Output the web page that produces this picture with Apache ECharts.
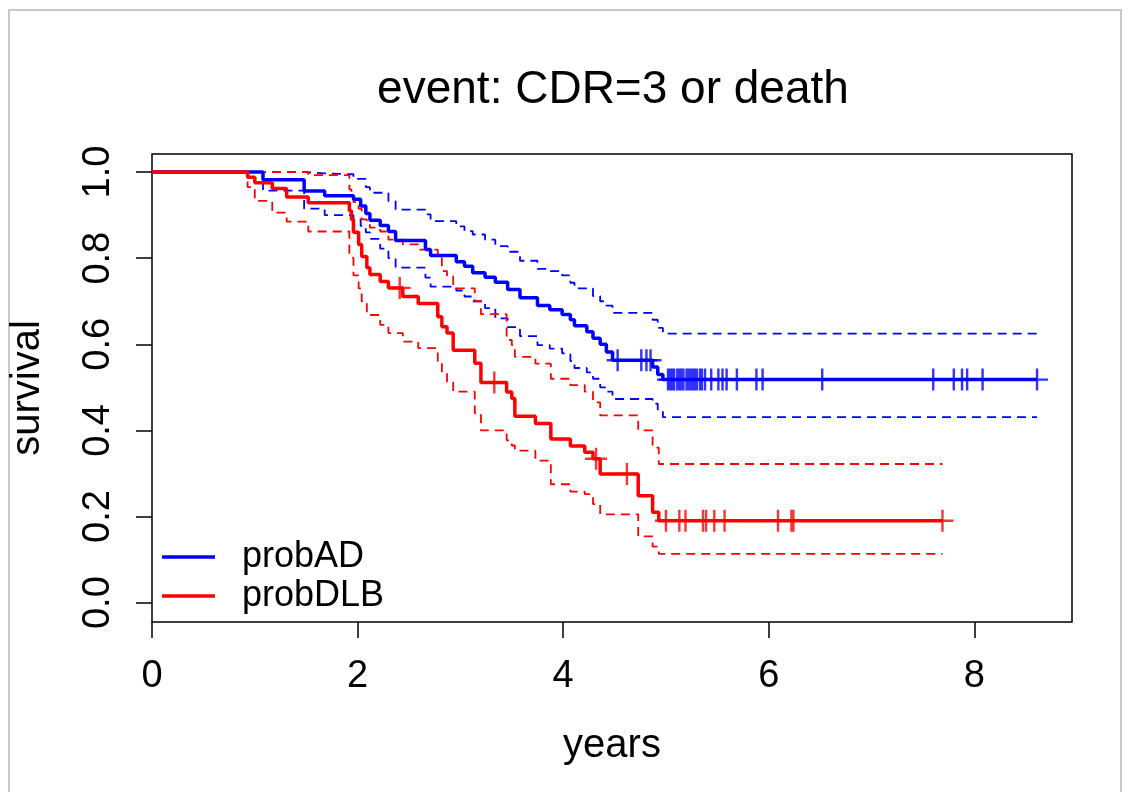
<!DOCTYPE html>
<html><head><meta charset="utf-8">
<script src="https://cdn.jsdelivr.net/npm/echarts@6/dist/echarts.min.js"></script>
<style>html,body{margin:0;padding:0;background:#fff;} #chart{width:1130px;height:792px;}</style>
</head><body><div id="chart"></div>
<script>
const chartTitle = 'event: CDR=3 or death';
const xName = 'years';
const yName = 'survival';
const xTicks = [0, 2, 4, 6, 8];
const yTicks = [0, 0.2, 0.4, 0.6, 0.8, 1.0];
const groupNames = ['probAD', 'probDLB'];

// probAD (blue)
const adTimes = [1.08,1.48,1.68,1.96,2.03,2.08,2.12,2.22,2.30,2.37,2.66,2.71,2.96,3.04,3.12,3.24,3.34,3.46,3.58,3.75,3.87,3.99,4.07,4.11,4.23,4.29,4.36,4.42,4.48,4.87,4.92,4.97];
const adSurv  = [0.982,0.956,0.945,0.937,0.921,0.904,0.888,0.876,0.862,0.841,0.820,0.806,0.792,0.781,0.766,0.756,0.744,0.727,0.708,0.690,0.680,0.669,0.657,0.643,0.629,0.614,0.600,0.582,0.563,0.547,0.530,0.518];
const adUpper = [1.0,0.997,0.995,0.984,0.984,0.965,0.952,0.952,0.932,0.913,0.902,0.886,0.874,0.863,0.855,0.843,0.828,0.815,0.794,0.775,0.770,0.760,0.743,0.730,0.730,0.712,0.700,0.690,0.673,0.657,0.638,0.625];
const adLower = [0.957,0.915,0.900,0.890,0.875,0.860,0.845,0.822,0.800,0.778,0.755,0.734,0.725,0.711,0.700,0.684,0.660,0.640,0.619,0.598,0.590,0.579,0.561,0.545,0.535,0.520,0.500,0.490,0.473,0.462,0.445,0.431];
const adCensor = [4.53,4.76,4.81,4.85,5.02,5.04,5.06,5.08,5.11,5.13,5.15,5.17,5.20,5.22,5.24,5.26,5.28,5.30,5.33,5.35,5.38,5.44,5.51,5.55,5.59,5.69,5.88,5.94,6.52,7.60,7.80,7.88,7.93,8.08,8.61];
const adEnd = 8.61;

// probDLB (red)
const dlbTimes = [0.93,1.00,1.17,1.31,1.52,1.92,1.94,1.96,2.01,2.04,2.09,2.12,2.22,2.30,2.44,2.59,2.78,2.82,2.87,2.93,3.14,3.20,3.45,3.50,3.53,3.73,3.88,4.07,4.21,4.29,4.36,4.73,4.87,4.93];
const dlbSurv  = [0.988,0.975,0.962,0.942,0.929,0.910,0.890,0.860,0.832,0.804,0.778,0.762,0.746,0.731,0.711,0.695,0.664,0.641,0.626,0.586,0.556,0.511,0.489,0.474,0.433,0.416,0.380,0.364,0.349,0.334,0.299,0.248,0.210,0.190];
const dlbUpper = [1.0,1.0,1.0,1.0,0.993,0.960,0.950,0.930,0.915,0.890,0.880,0.871,0.862,0.843,0.832,0.820,0.800,0.770,0.758,0.730,0.700,0.670,0.610,0.598,0.571,0.555,0.520,0.505,0.490,0.465,0.435,0.400,0.360,0.322];
const dlbLower = [0.965,0.933,0.906,0.885,0.862,0.804,0.800,0.760,0.730,0.700,0.676,0.668,0.645,0.626,0.606,0.591,0.556,0.533,0.512,0.490,0.440,0.400,0.377,0.365,0.353,0.330,0.275,0.258,0.252,0.229,0.205,0.154,0.130,0.113];
const dlbCensor = [2.41,3.33,4.32,4.62,5.00,5.13,5.19,5.36,5.39,5.47,5.57,6.09,6.22,6.24,7.69];
const dlbEnd = 7.69;

const FONT = '"Liberation Sans", Arial, Helvetica, sans-serif';
const BLUE = '#0000ff', RED = '#ff0000';

function stepData(times, vals, end) {
  const d = [[0, 1]];
  for (let i = 0; i < times.length; i++) d.push([times[i], vals[i]]);
  d.push([end, vals[vals.length - 1]]);
  return d;
}
function survAt(times, vals, t) {
  let v = 1;
  for (let i = 0; i < times.length; i++) if (times[i] <= t) v = vals[i];
  return v;
}
function censorData(cens, times, vals) {
  return cens.map(t => [t, survAt(times, vals, t)]);
}
const PLUS = 'path://M9.8,0H12.2V9.8H22V12.2H12.2V22H9.8V12.2H0V9.8H9.8Z';

function ciSeries(name, times, vals, end, color) {
  return {
    name: name, type: 'line', step: 'end', showSymbol: false, silent: true,
    data: stepData(times, vals, end),
    lineStyle: { color: color, width: 1.8, type: [9, 6] },
    itemStyle: { color: color }, z: 2
  };
}
function survSeries(name, times, vals, end, color, z) {
  return {
    name: name, type: 'line', step: 'end', showSymbol: false, silent: true,
    data: stepData(times, vals, end),
    lineStyle: { color: color, width: 3.5 },
    itemStyle: { color: color }, z: z
  };
}
function censSeries(name, cens, times, vals, color, z) {
  return {
    name: name, type: 'scatter', symbol: PLUS, symbolSize: 22, silent: true,
    data: censorData(cens, times, vals),
    itemStyle: { color: color }, z: z
  };
}

const chart = echarts.init(document.getElementById('chart'), null, { renderer: 'canvas' });
chart.setOption({
  animation: false,
  backgroundColor: '#fff',
  title: {
    text: chartTitle, left: 608, top: 62, textAlign: 'center',
    textStyle: { fontSize: 46, fontWeight: 'normal', fontFamily: FONT, color: '#000' }
  },
  graphic: [{
    type: 'rect', shape: { x: 9, y: 10, width: 1112, height: 800 },
    style: { fill: 'none', stroke: '#c8c8c8', lineWidth: 2 }, silent: true
  }],
  grid: { left: 152, top: 154, width: 920, height: 468, show: true, borderColor: '#000', borderWidth: 1.5, backgroundColor: 'transparent' },
  legend: {
    data: [{ name: groupNames[0], icon: 'rect' }, { name: groupNames[1], icon: 'rect' }],
    orient: 'vertical', left: 157, top: 534, itemWidth: 53, itemHeight: 3.5, itemGap: 3,
    selectedMode: false,
    textStyle: { fontSize: 36, fontFamily: FONT, color: '#000', padding: [0, 0, 0, 22], lineHeight: 32 }
  },
  xAxis: {
    type: 'value', min: 0, max: 8.95,
    name: xName, nameLocation: 'middle', nameGap: 104,
    nameTextStyle: { fontSize: 40, fontFamily: FONT, color: '#000' },
    axisLine: { show: false, onZero: false },
    splitLine: { show: false },
    axisTick: { show: true, inside: false, length: 16, lineStyle: { color: '#000', width: 1.5 }, customValues: xTicks },
    axisLabel: { show: true, fontSize: 38, fontFamily: FONT, color: '#000', margin: 36, customValues: xTicks, formatter: v => String(v) }
  },
  yAxis: {
    type: 'value', min: -0.045, max: 1.042,
    name: yName, nameLocation: 'middle', nameGap: 104, nameRotate: 90,
    nameTextStyle: { fontSize: 40, fontFamily: FONT, color: '#000' },
    axisLine: { show: false, onZero: false },
    splitLine: { show: false },
    axisTick: { show: true, inside: false, length: 16, lineStyle: { color: '#000', width: 1.5 }, customValues: yTicks },
    axisLabel: { show: true, rotate: 90, fontSize: 38, fontFamily: FONT, color: '#000', margin: 34, customValues: yTicks, formatter: v => v.toFixed(1) }
  },
  series: [
    ciSeries('adU', adTimes, adUpper, adEnd, BLUE),
    ciSeries('adL', adTimes, adLower, adEnd, BLUE),
    ciSeries('dlbU', dlbTimes, dlbUpper, dlbEnd, RED),
    ciSeries('dlbL', dlbTimes, dlbLower, dlbEnd, RED),
    survSeries(groupNames[0], adTimes, adSurv, adEnd, BLUE, 3),
    survSeries(groupNames[1], dlbTimes, dlbSurv, dlbEnd, RED, 4),
    censSeries('adC', adCensor, adTimes, adSurv, BLUE, 5),
    censSeries('dlbC', dlbCensor, dlbTimes, dlbSurv, RED, 6)
  ]
});
</script></body></html>
